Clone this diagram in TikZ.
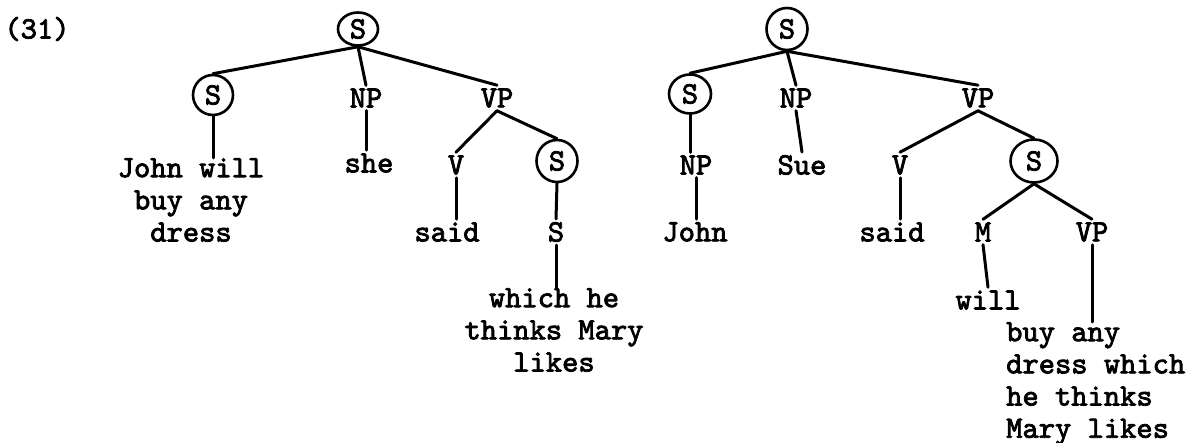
\documentclass[tikz,border=0pt]{standalone}
\usepackage{fontspec}
\setmonofont{lmmono10-regular.otf}[FakeBold=2.5]
\usetikzlibrary{shapes.geometric}
\begin{document}
\begin{tikzpicture}[x=1pt,y=-1pt,
  lab/.style={font=\fontsize{31}{32.2}\selectfont\ttfamily, inner sep=3pt},
  circ/.style={lab, draw, ellipse, line width=2.6pt, inner sep=0pt},
  edge/.style={line width=3pt, line cap=round},
]
\useasboundingbox[fill=white] (0,0) rectangle (1191,443);

\node[lab] (num) at (37,29) {(31)};

% left tree
\node[circ, minimum width=40pt, minimum height=33pt] (rootL) at (358,29) {S};
\node[circ, minimum width=40pt, minimum height=40pt] (sL) at (213,95) {S};
\node[lab] (npL) at (366,98) {NP};
\node[lab] (vpL) at (497,98) {VP};
\node[lab, inner sep=0pt, align=center, anchor=north] (t1) at (191,158) {John will\\buy any\\dress};
\node[lab] (sheL) at (369,163) {she};
\node[lab] (vL) at (456,165) {V};
\node[circ, minimum width=41pt, minimum height=42pt] (s2L) at (557,161) {S};
\node[lab] (saidL) at (447,232) {said};
\node[lab] (sP) at (556,232) {S};
\node[lab, inner sep=0pt, align=center, anchor=north] (t2) at (554,288) {which he\\thinks Mary\\likes};

\draw[edge] (rootL.south) -- (sL.north);
\draw[edge] (rootL.south) -- (npL.north);
\draw[edge] (rootL.south) -- (vpL.north);
\draw[edge] (sL.south) -- (sL.south |- t1.north);
\draw[edge] (npL.south) -- (npL.south |- sheL.north);
\draw[edge] (vpL.south) -- (vL.north);
\draw[edge] (vpL.south) -- (s2L.north);
\draw[edge] (vL.south) -- (vL.south |- saidL.north);
\draw[edge] (s2L.south) -- (sP.north);
\draw[edge] (sP.south) -- (sP.south |- t2.north);

% right tree
\node[circ, minimum width=41pt, minimum height=42pt] (rootR) at (787,29) {S};
\node[circ, minimum width=42pt, minimum height=39pt] (sR) at (690,94) {S};
\node[lab] (npR) at (796,98) {NP};
\node[lab] (vpR) at (978,98) {VP};
\node[lab] (npR2) at (696,165) {NP};
\node[lab] (sue) at (802,165) {Sue};
\node[lab] (vR) at (900,165) {V};
\node[circ, minimum width=47pt, minimum height=43pt] (s2R) at (1034,161) {S};
\node[lab] (john) at (695,232) {John};
\node[lab] (saidR) at (892,232) {said};
\node[lab] (mR) at (983,232) {M};
\node[lab] (vpR2) at (1092,232) {VP};
\node[lab] (will) at (988,300) {will};
\node[lab, inner sep=0pt, align=left, anchor=north west] (t3) at (1006,322) {buy any\\dress which\\he thinks\\Mary likes};

\draw[edge] (rootR.south) -- (sR.north);
\draw[edge] (rootR.south) -- (npR.north);
\draw[edge] (rootR.south) -- (vpR.north);
\draw[edge] (sR.south) -- (sR.south |- npR2.north);
\draw[edge] (npR2.south) -- (npR2.south |- john.north);
\draw[edge] (npR.south) -- (sue.north);
\draw[edge] (vpR.south) -- (vR.north);
\draw[edge] (vpR.south) -- (s2R.north);
\draw[edge] (vR.south) -- (vR.south |- saidR.north);
\draw[edge] (s2R.south) -- (mR.north);
\draw[edge] (s2R.south) -- (vpR2.north);
\draw[edge] (mR.south) -- (will.north);
\draw[edge] (vpR2.south) -- (vpR2.south |- t3.north);
\end{tikzpicture}
\end{document}
